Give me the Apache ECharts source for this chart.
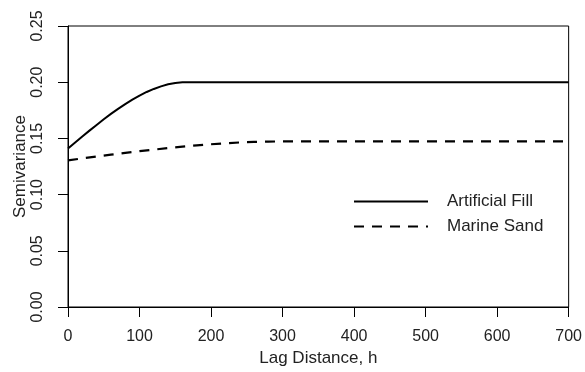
<!DOCTYPE html>
<html>
<head>
<meta charset="utf-8">
<script src="https://cdn.jsdelivr.net/npm/echarts@6/dist/echarts.min.js"></script>
<style>
    html, body { margin: 0; padding: 0; background: #fff; }
    #chart { width: 585px; height: 372px; }
</style>
</head>
<body>
<div id="chart"></div>
<script>
/* 变异函数图 */
var seriesNames = ['Artificial Fill', 'Marine Sand'];

// lag distance (h) / semivariance
var fillLag = [0, 10, 20, 30, 40, 50, 60, 70, 80, 90, 100, 110, 120, 130, 140, 150, 160, 165, 700];
var fillGamma = [0.1410, 0.1464, 0.1517, 0.1569, 0.1620, 0.1670, 0.1718, 0.1763, 0.1805, 0.1845,
                 0.1881, 0.1913, 0.1940, 0.1963, 0.1981, 0.1993, 0.1999, 0.2000, 0.2000];

var sandLag = [0, 20, 40, 60, 80, 100, 120, 140, 160, 180, 200, 220, 240, 260, 280, 300, 700];
var sandGamma = [0.1305, 0.1322, 0.1338, 0.1355, 0.1371, 0.1386, 0.1400, 0.1414, 0.1427, 0.1438,
                 0.1448, 0.1457, 0.1464, 0.1469, 0.1472, 0.1473, 0.1473];

var xTicks = [0, 100, 200, 300, 400, 500, 600, 700];
var yTicks = [0, 0.05, 0.10, 0.15, 0.20, 0.25];

function pairs(xs, ys) {
    var out = [];
    for (var i = 0; i < xs.length; i++) {
        out.push([xs[i], ys[i]]);
    }
    return out;
}

function $extend(base, extra) {
    var out = {}, k;
    for (k in base) { out[k] = base[k]; }
    for (k in extra) { out[k] = extra[k]; }
    return out;
}

function semivarianceChart(domId) {
    var chartInstance, font, axis, option;

    chartInstance = echarts.init(document.getElementById(domId));
    font = 'Liberation Sans, Arial, sans-serif';
    axis = {
        axisLine: {
            show: true,
            onZero: false,
            lineStyle: { color: '#000', width: 1 }
        },
        axisTick: {
            show: true,
            inside: false,
            length: 10,
            lineStyle: { color: '#000', width: 1 }
        },
        splitLine: { show: false },
        nameTextStyle: {
            color: '#222',
            fontFamily: font,
            fontSize: 17
        }
    };

    option = {
        backgroundColor: '#fff',
        animation: false,
        grid: {
            left: 68,
            right: 15,
            top: 26,
            bottom: 62,
            show: true,
            borderColor: '#000',
            borderWidth: 1
        },
        legend: {
            orient: 'vertical',
            left: 348,
            top: 188,
            itemWidth: 74,
            itemHeight: 14,
            itemGap: 8,
            data: seriesNames,
            itemStyle: { opacity: 0 },
            textStyle: {
                color: '#222',
                fontFamily: font,
                fontSize: 17,
                padding: [0, 0, 0, 14]
            }
        },
        xAxis: [
            $extend(axis, {
                type: 'value',
                min: xTicks[0],
                max: xTicks[xTicks.length - 1],
                interval: 100,
                name: 'Lag Distance, h',
                nameLocation: 'middle',
                nameGap: 43,
                axisLabel: {
                    color: '#222',
                    fontFamily: font,
                    fontSize: 16,
                    margin: 22,
                    formatter: function (v) { return String(v); }
                }
            })
        ],
        yAxis: [
            $extend(axis, {
                type: 'value',
                min: yTicks[0],
                max: yTicks[yTicks.length - 1],
                interval: 0.05,
                name: 'Semivariance',
                nameLocation: 'middle',
                nameGap: 39,
                nameMoveOverlap: false,
                axisLabel: {
                    color: '#222',
                    fontFamily: font,
                    fontSize: 16,
                    rotate: 90,
                    margin: 22,
                    formatter: function (v) { return v.toFixed(2); }
                }
            })
        ],
        series: [
            {
                name: seriesNames[0],
                type: 'line',
                data: pairs(fillLag, fillGamma),
                symbol: 'none',
                lineStyle: { color: '#000', width: 2, type: 'solid' },
                itemStyle: { color: '#000' }
            },
            {
                name: seriesNames[1],
                type: 'line',
                data: pairs(sandLag, sandGamma),
                symbol: 'none',
                lineStyle: { color: '#000', width: 2.2, type: [10, 8] },
                itemStyle: { color: '#000' }
            }
        ]
    };
    chartInstance.setOption(option);
    return chartInstance;
}

semivarianceChart('chart');
</script>
</body>
</html>
